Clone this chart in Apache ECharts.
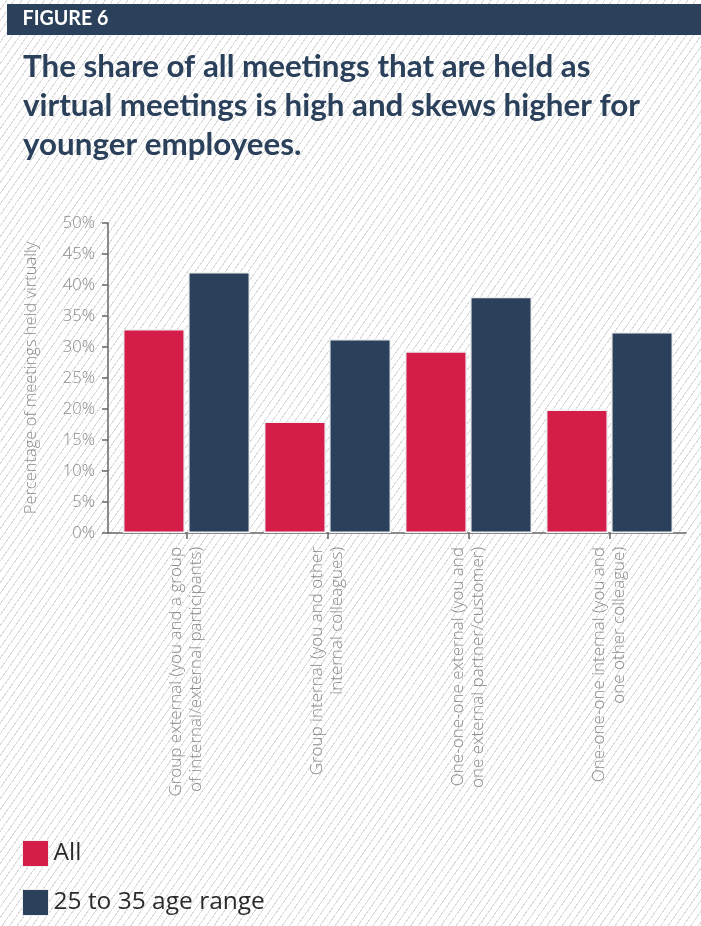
<!DOCTYPE html>
<html>
<head>
<meta charset="utf-8">
<script src="https://cdn.jsdelivr.net/npm/echarts@6/dist/echarts.min.js"></script>
<style>
html,body{margin:0;padding:0;width:701px;height:926px;overflow:hidden;
background-color:#fff;
background-image:repeating-linear-gradient(125deg, transparent 0px, transparent 5.2px, #dadada 5.2px, #dadada 6.2px);}
#chart{width:701px;height:926px;}
</style>
</head>
<body>
<div id="chart"></div>
<script>
const figureLabel = 'FIGURE 6';
const titleLines = [
  'The share of all meetings that are held as',
  'virtual meetings is high and skews higher for',
  'younger employees.'
];
const yAxisName = 'Percentage of meetings held virtually';
const categories = [
  'Group external (you and a group\nof internal/external participants)',
  'Group internal (you and other\ninternal colleagues)',
  'One-one-one external (you and\none external partner/customer)',
  'One-one-one internal (you and\none other colleague)'
];
const seriesNames = ['All', '25 to 35 age range'];
const allValues = [32.9, 18.0, 29.3, 19.9];
const youngValues = [42.1, 31.3, 38.1, 32.4];
const yMin = 0, yMax = 50, yStep = 5;

const RED = '#d51d4a', NAVY = '#2b405a';

// horizontal condensing factors measured so text widths match the reference
const mctx = document.createElement('canvas').getContext('2d');
function textWidth(font, s){ mctx.font = font; return mctx.measureText(s).width; }
const TITLE_FONT = 'bold 31px Lato';
const titleScale = 617 / textWidth(TITLE_FONT, titleLines[1]);
const HEAD_FONT = 'bold 20px Lato';
const headScale = 86 / textWidth(HEAD_FONT, figureLabel);

const titleBaselines = [75, 114, 153];
const graphics = [{
  type: 'rect', x: 7, y: 4, shape: {width: 700, height: 31}, style: {fill: NAVY}, z: 0
}, {
  type: 'text', x: 22.5, y: 28.5, scaleX: headScale, z: 1,
  style: {text: figureLabel, font: HEAD_FONT, fill: '#ffffff', verticalAlign: 'bottom'}
}];
titleLines.forEach((t, i) => graphics.push({
  type: 'text', x: 23, y: titleBaselines[i] + 7, scaleX: titleScale, z: 1,
  style: {text: t, font: TITLE_FONT, fill: NAVY, verticalAlign: 'bottom'}
}));

const chart = echarts.init(document.getElementById('chart'), null, {renderer:'canvas'});
const gridTop = 223, gridBottom = 926 - 533;
const labelFont = {color: '#8a8a8a', fontFamily: 'Open Sans', fontWeight: 300};
chart.setOption({
  animation: false,
  backgroundColor: 'transparent',
  graphic: graphics,
  legend: {
    orient: 'vertical', left: 22, top: 840, padding: 0, itemWidth: 26, itemHeight: 26, itemGap: 22,
    icon: 'rect', data: seriesNames,
    itemStyle: {borderColor: '#eeeeee', borderWidth: 1},
    textStyle: {fontFamily: 'Open Sans', fontSize: 24.5, color: '#2a2a2a'}
  },
  grid: [
    {left: 116, right: 21, top: gridTop, bottom: gridBottom},
    {left: 108, right: 15, top: gridTop, bottom: gridBottom}
  ],
  xAxis: [{
    gridIndex: 0, type: 'category', data: categories, boundaryGap: true,
    axisLine: {show: false},
    axisTick: {show: true, alignWithLabel: true, length: 6, lineStyle: {color: '#666', width: 1.5}},
    axisLabel: Object.assign({rotate: 90, margin: 14, fontSize: 17, lineHeight: 20}, labelFont)
  }, {
    gridIndex: 1, type: 'value', min: 0, max: 1,
    axisLine: {show: true, lineStyle: {color: '#666', width: 1.5}},
    axisTick: {show: false}, axisLabel: {show: false}, splitLine: {show: false}
  }],
  yAxis: [{
    gridIndex: 0, type: 'value', min: yMin, max: yMax, interval: yStep,
    axisLine: {show: false}, axisTick: {show: false}, axisLabel: {show: false}, splitLine: {show: false}
  }, {
    gridIndex: 1, type: 'value', min: yMin, max: yMax, interval: yStep,
    name: yAxisName, nameLocation: 'middle', nameGap: 68,
    nameTextStyle: Object.assign({fontSize: 16.5}, labelFont),
    axisLine: {show: true, lineStyle: {color: '#666', width: 1.5}},
    axisTick: {show: true, inside: false, length: 6, lineStyle: {color: '#666', width: 1.5}},
    axisLabel: Object.assign({formatter: '{value}%', margin: 13, fontSize: 16.5}, labelFont),
    splitLine: {show: false}
  }],
  series: [{
    name: seriesNames[0], type: 'bar', xAxisIndex: 0, yAxisIndex: 0, data: allValues,
    barWidth: 62, barGap: '5%',
    itemStyle: {color: RED, borderColor: '#eef0f2', borderWidth: 1.5}
  }, {
    name: seriesNames[1], type: 'bar', xAxisIndex: 0, yAxisIndex: 0, data: youngValues,
    barWidth: 62, barGap: '5%',
    itemStyle: {color: NAVY, borderColor: '#eef0f2', borderWidth: 1.5}
  }]
});
</script>
</body>
</html>
